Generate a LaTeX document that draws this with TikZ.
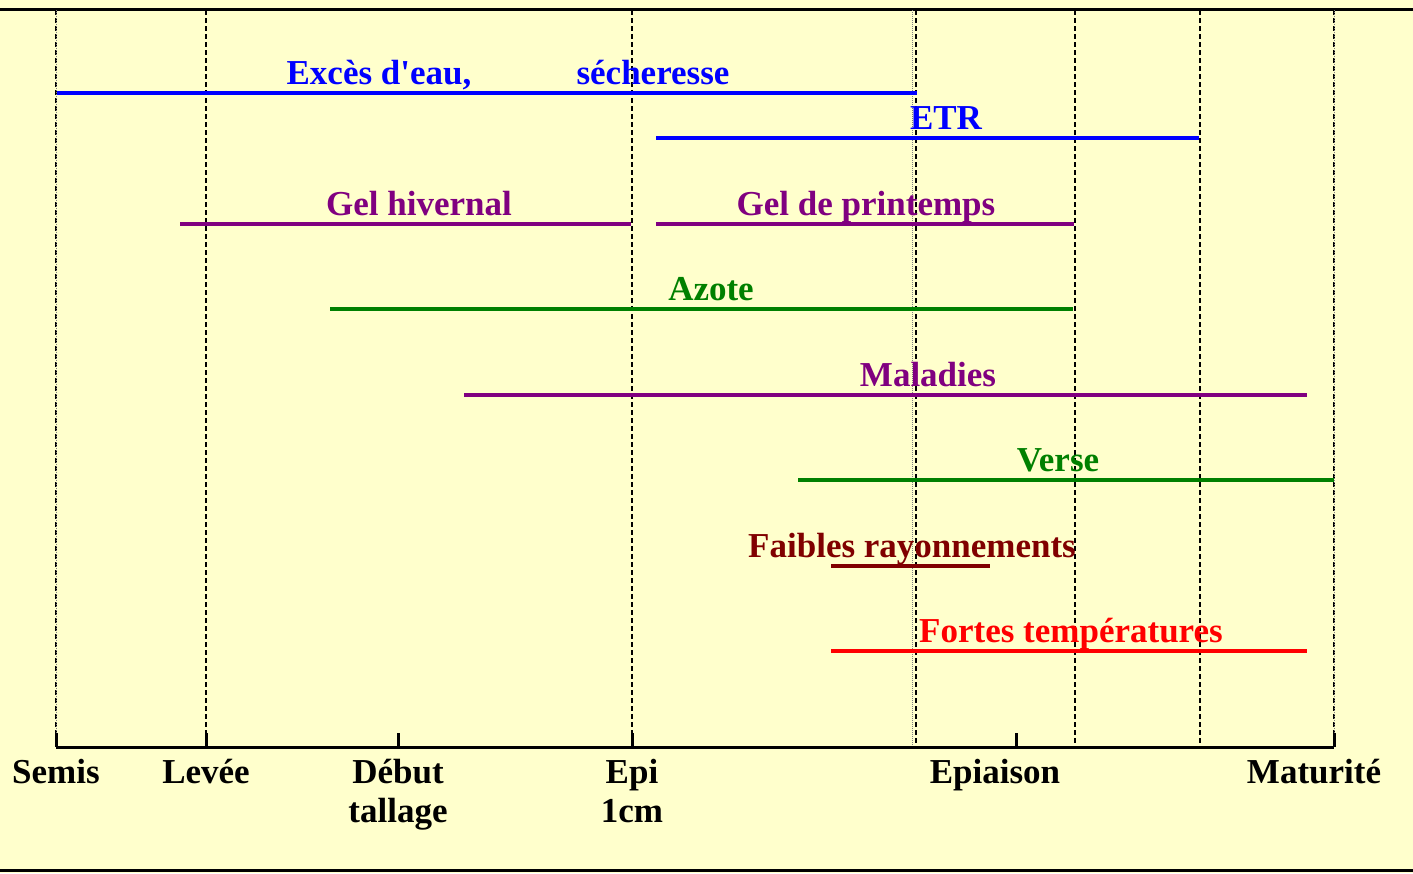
\documentclass[tikz,border=0pt]{standalone}
\usepackage{fontspec}
\setmainfont{Liberation Serif}[Ligatures=TeXOff]
\definecolor{bg}{HTML}{FFFFCC}
\definecolor{cblue}{HTML}{0000FF}
\definecolor{cpurple}{HTML}{800080}
\definecolor{cgreen}{HTML}{008000}
\definecolor{cdred}{HTML}{800000}
\definecolor{cred}{HTML}{FF0000}
\begin{document}
\begin{tikzpicture}[x=1pt,y=-1pt,
  lbl/.style={font=\bfseries\fontsize{35}{37}\selectfont, anchor=base, inner sep=0pt},
  bar/.style={line width=4.6pt},
  vdash/.style={line width=2pt, dash pattern=on 5pt off 3pt},
  vdot/.style={line width=0.8pt, gray, dash pattern=on 1pt off 1pt},
  frame/.style={line width=3pt},
  axis/.style={line width=3pt},
  tick/.style={line width=3pt}]
\fill[bg] (0,0) rectangle (1413,873);
\useasboundingbox (0,0) rectangle (1413,873);
% frame lines
\draw[frame] (0,9) -- (1413,9);
\draw[frame] (0,870) -- (1413,870);
% vertical guide lines
\foreach \x in {56,206,632,916,1075,1200,1334}
  \draw[vdash] (\x,10) -- (\x,745);
\foreach \x in {56,912,1334}
  \draw[vdot] (\x,10) -- (\x,745);
% axis
\coordinate (a0) at (56,747);
\coordinate (a1) at (1334,747);
\draw[axis] (a0) -- (a1);
\foreach \x in {56,206,398,632,1016,1334}
  \draw[tick] (\x,733) -- (\x,747);
% axis labels
\node[lbl] (semis) at (56,783) {Semis};
\node[lbl] (levee) at (206,783) {Levée};
\node[lbl] (debut) at (398,783) {Début};
\node[lbl] (tall) at (398,822) {tallage};
\node[lbl] (epi) at (632,783) {Epi};
\node[lbl] (cm) at (632,822) {1cm};
\node[lbl] (epiaison) at (995,783) {Epiaison};
\node[lbl] (matur) at (1314,783) {Maturité};
% bars
\draw[bar,cblue] (57,93) -- (917,93);
\node[lbl,text=cblue] (exces) at (379,84) {Excès d'eau,};
\node[lbl,text=cblue] (sech) at (653,84) {sécheresse};
\draw[bar,cblue] (656,138) -- (1199,138);
\node[lbl,text=cblue] (etr) at (946,129) {ETR};
\draw[bar,cpurple] (180,224) -- (631,224);
\node[lbl,text=cpurple] (gelh) at (419,215) {Gel hivernal};
\draw[bar,cpurple] (656,224) -- (1074,224);
\node[lbl,text=cpurple] (gelp) at (866,215) {Gel de printemps};
\draw[bar,cgreen] (330,309) -- (1073,309);
\node[lbl,text=cgreen] (azote) at (711,300) {Azote};
\draw[bar,cpurple] (464,395) -- (1307,395);
\node[lbl,text=cpurple] (mal) at (928,386) {Maladies};
\draw[bar,cgreen] (798,480) -- (1334,480);
\node[lbl,text=cgreen] (verse) at (1058,471) {Verse};
\draw[bar,cdred] (831,566) -- (990,566);
\node[lbl,text=cdred] (faib) at (912,557) {Faibles rayonnements};
\draw[bar,cred] (831,651) -- (1307,651);
\node[lbl,text=cred] (fort) at (1071,642) {Fortes températures};
\end{tikzpicture}
\end{document}
